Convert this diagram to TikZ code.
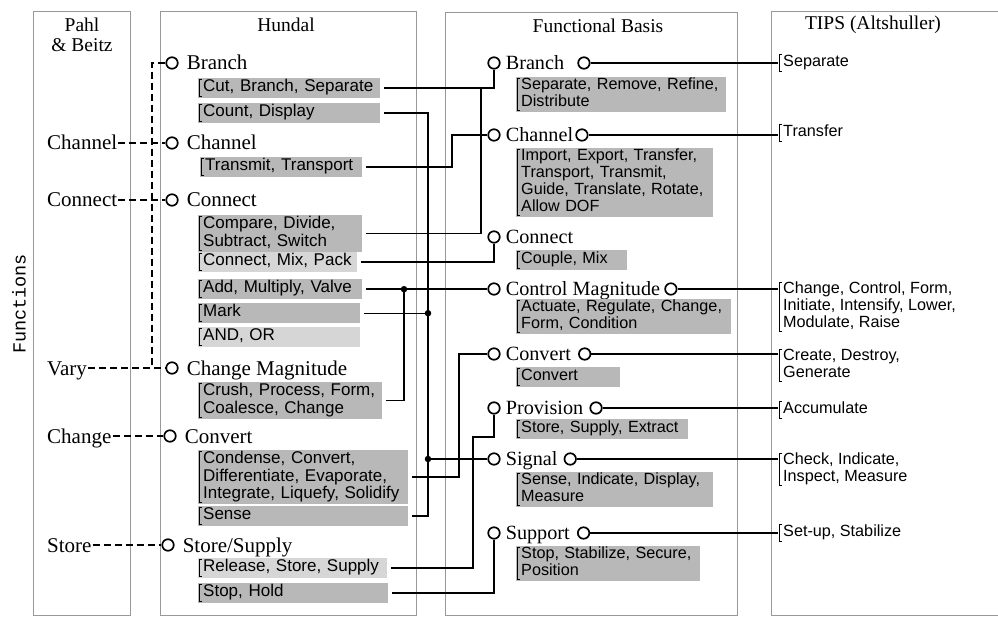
\documentclass[tikz,border=0pt]{standalone}
\usepackage{fontspec}
\setmainfont{Liberation Serif}
\setsansfont{Liberation Sans}
\setmonofont{Liberation Mono}
\usetikzlibrary{positioning}
\usetikzlibrary{calc}

\begin{document}
\begin{tikzpicture}[x=1pt,y=-1pt,
panel/.style={draw=black!40,line width=0.7pt},% column frames
head/.style={font=\fontsize{19.5}{20}\selectfont},
fnh/.style={font=\fontsize{21}{21}\selectfont,inner sep=1pt,text height=14pt,text depth=0pt},
fnf/.style={font=\fontsize{20.2}{20}\selectfont,inner sep=1pt,text height=13.4pt,text depth=0pt},
port/.style={circle,draw,line width=1.7pt,minimum size=11.5pt,inner sep=0pt},
jdot/.style={circle,fill,inner sep=0pt,minimum size=6.5pt},
hbox/.style={anchor=north west,fill=black!28,text width=#1,align=left,inner xsep=5pt,inner ysep=0.5pt,
  minimum height=20pt,font=\sffamily\fontsize{17}{17}\selectfont,
  execute at begin node=\strut,execute at end node=\strut},
fbbox/.style={hbox=#1,font=\sffamily\fontsize{16.2}{17}\selectfont},
lite/.style={fill=black!16},
tips/.style={anchor=north west,align=left,inner xsep=5pt,inner ysep=0.5pt,minimum height=20pt,
  font=\sffamily\fontsize{16.2}{17}\selectfont,execute at begin node=\strut,execute at end node=\strut},
brk/.style={line width=1.1pt},
wire/.style={line width=1.5pt},
boxwire/.style={wire,shorten <=4pt},
dline/.style={line width=1.4pt,dash pattern=on 7pt off 4pt}
]
\useasboundingbox (0,0) rectangle (998,617);

% frames and headings
\draw[panel] (33,11) rectangle (130,615);
\draw[panel] (160,11) rectangle (416,615);
\draw[panel] (445,12) rectangle (737,615);
\draw[panel] (771,11) rectangle (1010,615);
\node[head] (tPahl) at (82,25) {Pahl};
\node[head] (tBeitz) at (82,45) {\& Beitz};
\node[head] (tHundal) at (286,25) {Hundal};
\node[head] (tFB) at (598,26) {Functional Basis};
\node[head] (tTIPS) at (873,25) {TIPS (Altshuller)};
\node[rotate=90,font=\ttfamily\fontsize{18.5}{18.5}\selectfont] (fnLabel) at (19,304) {Functions};

% Pahl & Beitz
\node[fnh,anchor=west] (pChannel) at (46,143) {Channel};
\node[fnh,anchor=west] (pConnect) at (46,200) {Connect};
\node[fnh,anchor=west] (pVary) at (46,368) {Vary};
\node[fnh,anchor=west] (pChange) at (46,436) {Change};
\node[fnh,anchor=west] (pStore) at (46,545) {Store};

% Hundal
\node[port] (hBranch) at (172,63) {};
\node[fnh,right=7pt of hBranch] (hBranch-t) {Branch};
\node[port] (hChannel) at (172,143) {};
\node[fnh,right=7pt of hChannel] (hChannel-t) {Channel};
\node[port] (hConnect) at (172,200) {};
\node[fnh,right=7pt of hConnect] (hConnect-t) {Connect};
\node[port] (hChgMag) at (172,368) {};
\node[fnh,right=7pt of hChgMag] (hChgMag-t) {Change Magnitude};
\node[port] (hConvert) at (170,436) {};
\node[fnh,right=7pt of hConvert] (hConvert-t) {Convert};
\node[port] (hStore) at (168,545) {};
\node[fnh,right=7pt of hStore] (hStore-t) {Store/Supply};

\node[hbox=172pt] (hCut) at (198,78) {Cut, Branch, Separate};
\node[hbox=172pt] (hCount) at (198,103) {Count, Display};
\node[hbox=152pt] (hTrans) at (200,157) {Transmit, Transport};
\node[hbox=154pt] (hComp) at (198,215) {Compare, Divide,\\Subtract, Switch};
\node[hbox=149pt,lite] (hCMP) at (198,252) {Connect, Mix, Pack};
\node[hbox=154pt] (hAdd) at (198,279) {Add, Multiply, Valve};
\node[hbox=152pt] (hMark) at (198,303) {Mark};
\node[hbox=152pt,lite] (hAnd) at (198,327) {AND, OR};
\node[hbox=174pt] (hCrush) at (198,382) {Crush, Process, Form,\\Coalesce, Change};
\node[hbox=200pt] (hCond) at (198,450) {Condense, Convert,\\Differentiate, Evaporate,\\Integrate, Liquefy, Solidify};
\node[hbox=200pt] (hSense) at (198,506) {Sense};
\node[hbox=179pt,lite] (hRel) at (198,558) {Release, Store, Supply};
\node[hbox=180pt] (hStop) at (198,583) {Stop, Hold};

% Functional Basis
\node[port] (fBranch) at (494,63) {};
\node[fnf,right=4pt of fBranch] (fBranch-t) {Branch};
\node[port,right=12pt of fBranch-t] (fBranch-o) {};
\node[port] (fChannel) at (494,135) {};
\node[fnf,right=4pt of fChannel] (fChannel-t) {Channel};
\node[port,right=1pt of fChannel-t] (fChannel-o) {};
\node[port] (fConnect) at (494,237) {};
\node[fnf,right=4pt of fConnect] (fConnect-t) {Connect};
\node[port] (fCtrl) at (494,289) {};
\node[fnf,right=4pt of fCtrl] (fCtrl-t) {Control Magnitude};
\node[port,right=3pt of fCtrl-t] (fCtrl-o) {};
\node[port] (fConvert) at (494,354) {};
\node[fnf,right=4pt of fConvert] (fConvert-t) {Convert};
\node[port,right=6pt of fConvert-t] (fConvert-o) {};
\node[port] (fProv) at (494,408) {};
\node[fnf,right=4pt of fProv] (fProv-t) {Provision};
\node[port,right=5pt of fProv-t] (fProv-o) {};
\node[port] (fSignal) at (494,459) {};
\node[fnf,right=4pt of fSignal] (fSignal-t) {Signal};
\node[port,right=5pt of fSignal-t] (fSignal-o) {};
\node[port] (fSupport) at (494,533) {};
\node[fnf,right=4pt of fSupport] (fSupport-t) {Support};
\node[port,right=6pt of fSupport-t] (fSupport-o) {};

\node[fbbox=200pt] (fSepBox) at (516,77) {Separate, Remove, Refine,\\Distribute};
\node[fbbox=187pt] (fImpBox) at (516,148) {Import, Export, Transfer,\\Transport, Transmit,\\Guide, Translate, Rotate,\\Allow DOF};
\node[fbbox=101pt] (fCoupBox) at (516,250) {Couple, Mix};
\node[fbbox=205pt] (fActBox) at (516,299) {Actuate, Regulate, Change,\\Form, Condition};
\node[fbbox=94pt] (fConvBox) at (516,367) {Convert};
\node[fbbox=162pt] (fStoreBox) at (516,419) {Store, Supply, Extract};
\node[fbbox=187pt] (fSenseBox) at (516,472) {Sense, Indicate, Display,\\Measure};
\node[fbbox=174pt] (fStopBox) at (516,546) {Stop, Stabilize, Secure,\\Position};

% TIPS
\node[tips] (tSep) at (778,53) {Separate};
\node[tips] (tTrans) at (778,123) {Transfer};
\node[tips] (tChange) at (778,281) {Change, Control, Form,\\Initiate, Intensify, Lower,\\Modulate, Raise};
\node[tips] (tCreate) at (778,348) {Create, Destroy,\\Generate};
\node[tips] (tAcc) at (778,400) {Accumulate};
\node[tips] (tCheck) at (778,452) {Check, Indicate,\\Inspect, Measure};
\node[tips] (tSet) at (778,523) {Set-up, Stabilize};

\foreach \b in {hCut,hCount,hTrans,hComp,hCMP,hAdd,hMark,hAnd,hCrush,hCond,hSense,hRel,hStop,
  fSepBox,fImpBox,fCoupBox,fActBox,fConvBox,fStoreBox,fSenseBox,fStopBox,
  tSep,tTrans,tChange,tCreate,tAcc,tCheck,tSet}
  \draw[brk] ([xshift=4pt,yshift=-1.5pt]\b.north west) -- ([xshift=1.5pt,yshift=-1.5pt]\b.north west)
    -- ([xshift=1.5pt,yshift=1.5pt]\b.south west) -- ([xshift=4pt,yshift=1.5pt]\b.south west);

% Pahl & Beitz to Hundal
\coordinate (c0) at (152,0);
\draw[dline] (hBranch.west) -| (c0 |- hChgMag);
\draw[dline] (pChannel.east) -- (hChannel.west);
\draw[dline] (pConnect.east) -- (hConnect.west);
\draw[dline] (pVary.east) -- (hChgMag.west);
\draw[dline] (pChange.east) -- (hConvert.west);
\draw[dline] (pStore.east) -- (hStore.west);

% Hundal to Functional Basis
\coordinate (c1) at (404,0);
\coordinate (c2) at (428,0);
\coordinate (c3) at (452,0);
\coordinate (c4) at (459,0);
\coordinate (c5) at (473,437);
\coordinate (c6) at (481,0);
\node[jdot] (dCtrl) at (c1 |- hAdd.east) {};
\node[jdot] (dMark) at (c2 |- hMark.east) {};
\node[jdot] (dSig) at (c2 |- fSignal) {};
\draw[boxwire] (hCut.east) -| (fBranch.south);
\draw[boxwire] (hComp.east) -| (c6 |- hCut.east);
\draw[boxwire,shorten >=4pt] (hCount.east) -| (c2 |- hSense.east) -- (hSense.east);
\draw[boxwire] (hTrans.east) -| (c3 |- fChannel) -- (fChannel.west);
\draw[boxwire] (hCMP.east) -| (fConnect.south);
\draw[boxwire] (hAdd.east) -- (hAdd.east -| fCtrl.west);
\draw[boxwire,line width=0.8pt] (hMark.east) -- (dMark.center);
\draw[wire,shorten >=4pt] (dCtrl.center) |- (hCrush.east);
\draw[wire] (dSig.center) -- (fSignal.west);
\draw[boxwire] (hCond.east) -| (c4 |- fConvert) -- (fConvert.west);
\draw[boxwire] (hRel.east) -| (c5) -| (fProv.south);
\draw[boxwire] (hStop.east) -| (fSupport.south);

% Functional Basis to TIPS
\draw[wire] (fBranch-o.east) -- (tSep.west |- fBranch-o);
\draw[wire] (fChannel-o.east) -- (tTrans.west |- fChannel-o);
\draw[wire] (fCtrl-o.east) -- (tChange.west |- fCtrl-o);
\draw[wire] (fConvert-o.east) -- (tCreate.west |- fConvert-o);
\draw[wire] (fProv-o.east) -- (tAcc.west |- fProv-o);
\draw[wire] (fSignal-o.east) -- (tCheck.west |- fSignal-o);
\draw[wire] (fSupport-o.east) -- (tSet.west |- fSupport-o);
\end{tikzpicture}
\end{document}
